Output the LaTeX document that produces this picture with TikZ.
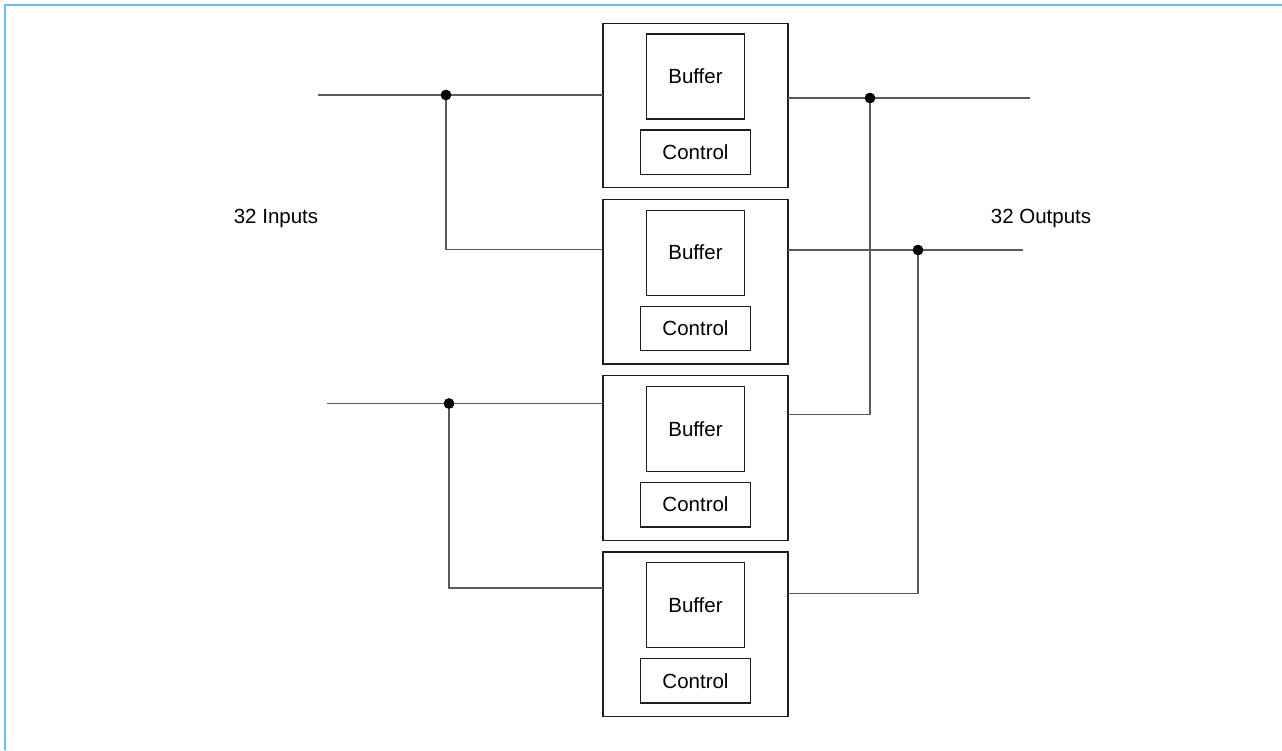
\documentclass[tikz,border=0pt]{standalone}
\usepackage{fontspec}
\setmainfont{Liberation Sans}
\definecolor{frame}{HTML}{64BEFF}
\definecolor{wiregrey}{HTML}{5A5A5A}
\definecolor{ink}{HTML}{1E1E1E}
\usetikzlibrary{positioning}
\tikzset{
  unit/.style={draw=ink, line width=1.3pt, minimum width=185pt, minimum height=164.5pt, inner sep=0pt, outer sep=0pt},
  buf/.style={draw=ink, line width=1.3pt, minimum width=98.5pt, minimum height=85pt, inner sep=0pt, outer sep=0pt},
  ctrl/.style={draw=ink, line width=1.3pt, minimum width=110pt, minimum height=44.5pt, inner sep=0pt, outer sep=0pt},
  wire/.style={draw=wiregrey, line width=1.3pt},
  dot/.style={circle, fill=black, inner sep=0pt, minimum size=10.5pt},
  lbl/.style={anchor=base, inner sep=0pt},
}

\begin{document}
\begin{tikzpicture}[x=1pt,y=-1pt,node distance=11.7pt,
  every node/.style={font=\fontsize{20.5}{24}\selectfont, text=black}]
\useasboundingbox (0,0) rectangle (1282,750);
\draw[frame, line width=2.6pt] (5,750) -- (5,5) -- (1282,5);

% the four switch units
\node[unit] (u1) at (695.5,105.5) {};
\node[unit,below=of u1] (u2) {};
\node[unit,below=of u2] (u3) {};
\node[unit,below=of u3] (u4) {};
\foreach \u in {u1,u2,u3,u4}{
  \node[buf,below=10.7pt of \u.north] (\u buf) {Buffer};
  \node[ctrl,above=13.3pt of \u.south] (\u ctrl) {Control};
}

\node[lbl] (inlbl) at (276,223) {32 Inputs};
\node[lbl] (outlbl) at (1041,223) {32 Outputs};

% inputs
\coordinate (in1) at (318,95);
\coordinate (in2) at (327,403.5);
\node[dot] (ja) at (446,95) {};
\node[dot] (jb) at (449,403.5) {};
\draw[wire] (in1) -- (in1 -| u1.west);
\draw[wire] (ja.center) |- (u2.west |- 0,249.5);
\draw[wire] (in2) -- (in2 -| u3.west);
\draw[wire] (jb.center) |- (u4.west |- 0,588);

% outputs
\coordinate (out1) at (1030,98);
\coordinate (out2) at (1023,250);
\node[dot] (jc) at (870,98) {};
\node[dot] (jd) at (918,250) {};
\draw[wire] (u1.east |- out1) -- (out1);
\draw[wire] (jc.center) |- (u3.east |- 0,414.5);
\draw[wire] (u2.east |- out2) -- (out2);
\draw[wire] (jd.center) |- (u4.east |- 0,593.3);
\node[dot] at (ja) {};\node[dot] at (jb) {};\node[dot] at (jc) {};\node[dot] at (jd) {};
\end{tikzpicture}
\end{document}
